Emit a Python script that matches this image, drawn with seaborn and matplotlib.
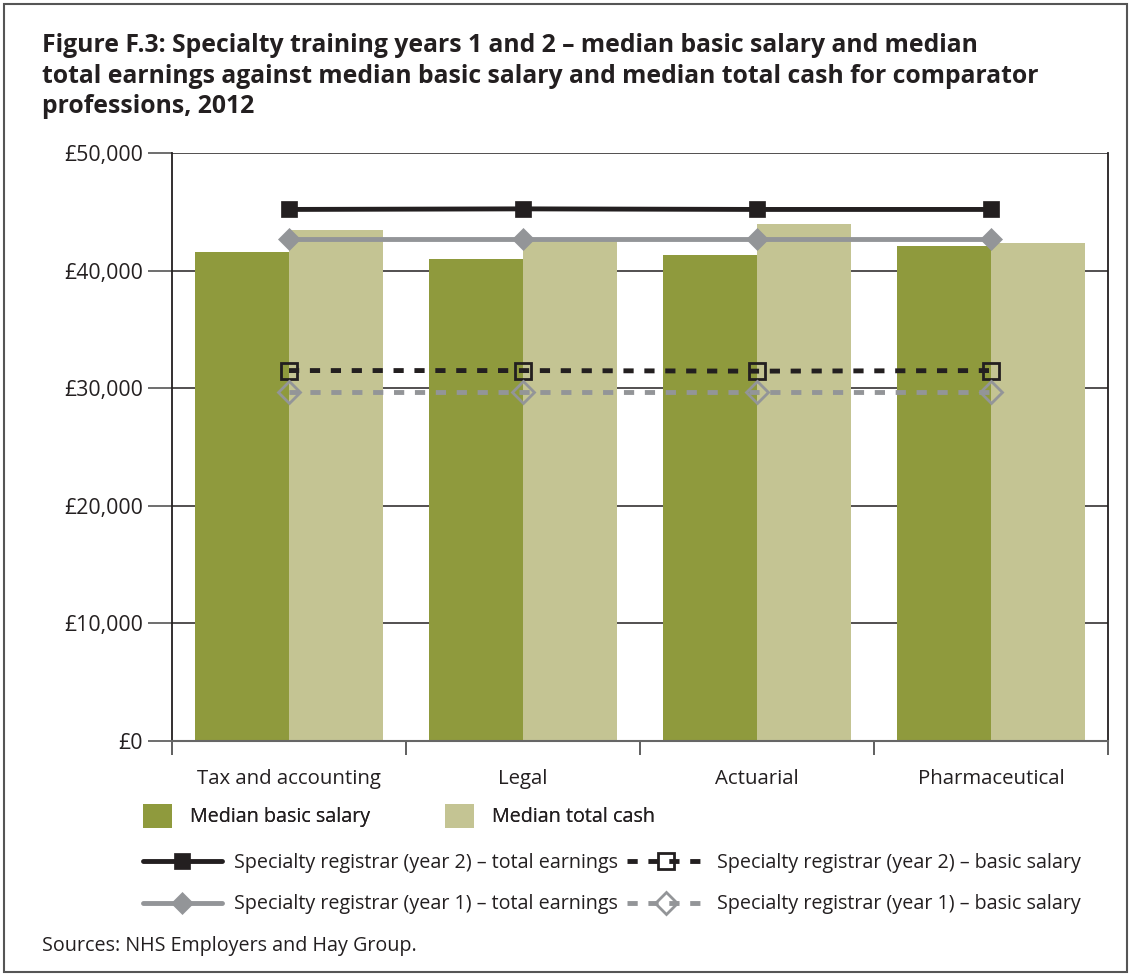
import matplotlib
matplotlib.use("Agg")
import matplotlib.pyplot as plt
import seaborn as sns
import numpy as np
import pandas as pd
from matplotlib.patches import Patch, Rectangle
from matplotlib.ticker import FuncFormatter, FixedLocator

categories = ["Tax and accounting", "Legal", "Actuarial", "Pharmaceutical"]
median_basic_salary = [41600, 41000, 41300, 42100]
median_total_cash = [43450, 42700, 43950, 42350]
y2_total_earnings = [45200, 45250, 45200, 45200]
y1_total_earnings = [42650, 42650, 42650, 42650]
y2_basic_salary = [31500, 31500, 31450, 31500]
y1_basic_salary = [29650, 29650, 29650, 29650]
bar_series = ["Median basic salary", "Median total cash"]
line_labels = [
    "Specialty registrar (year 2) \u2013 total earnings",
    "Specialty registrar (year 1) \u2013 total earnings",
    "Specialty registrar (year 2) \u2013 basic salary",
    "Specialty registrar (year 1) \u2013 basic salary",
]
title = ("Figure F.3: Specialty training years 1 and 2 \u2013 median basic salary and median\n"
         "total earnings against median basic salary and median total cash for comparator\n"
         "professions, 2012")
source = "Sources: NHS Employers and Hay Group."

GREEN = "#8f9a3d"
TAN = "#c4c493"
BLACK = "#231f20"
GREY = "#939598"
TXT = "#231f20"

sns.set_theme(style="white")
plt.rcParams["font.family"] = ["Open Sans", "DejaVu Sans"]

W, H = 1131, 976
fig = plt.figure(figsize=(W / 100, H / 100), dpi=100)
ax = fig.add_axes([172 / W, 1 - 741 / H, (1108 - 172) / W, (741 - 153) / H])

df = pd.DataFrame({
    "category": categories * 2,
    "value": median_basic_salary + median_total_cash,
    "series": [bar_series[0]] * 4 + [bar_series[1]] * 4,
})
sns.barplot(data=df, x="category", y="value", hue="series", order=categories,
            hue_order=bar_series, palette=[GREEN, TAN], width=0.8, gap=0,
            saturation=1, linewidth=0, errorbar=None, legend=False, ax=ax, zorder=2)

line_specs = [
    (y2_total_earnings, BLACK, "s", True),
    (y1_total_earnings, GREY, "D", True),
    (y2_basic_salary, BLACK, "s", False),
    (y1_basic_salary, GREY, "D", False),
]
handles = []
for vals, col, mk, filled in line_specs:
    n_before = len(ax.lines)
    sns.pointplot(x=categories, y=vals, order=categories, color=col, markers=mk,
                  linestyles="-", errorbar=None, ax=ax)
    ln = ax.lines[n_before]
    ln.set_linewidth(3.5)
    ln.set_zorder(5)
    ln.set_color(col)
    ln.set_markeredgecolor(col)
    ln.set_markersize(12 if mk == "s" else 11.5)
    if filled:
        ln.set_markerfacecolor(col)
        ln.set_markeredgewidth(0.5)
    else:
        ln.set_markerfacecolor("none")
        ln.set_markeredgewidth(2.0)
        ln.set_linestyle((0, (2.1, 2.2)))
        ln.set_dash_capstyle("butt")
    handles.append(ln)

ax.set_ylim(0, 50000)
ax.set_xlim(-0.5, 3.5)
ax.yaxis.set_major_locator(FixedLocator([0, 10000, 20000, 30000, 40000, 50000]))
ax.yaxis.set_major_formatter(FuncFormatter(lambda v, p: "\u00a3{:,.0f}".format(v)))
ax.grid(axis="y", color=BLACK, linewidth=1.1, zorder=0)
ax.set_axisbelow(True)
ax.set_xlabel("")
ax.set_ylabel("")

ax.set_xticks(np.arange(len(categories)))
ax.set_xticklabels(categories)
ax.set_xticks(np.arange(-0.5, len(categories)), minor=True)
ax.tick_params(axis="x", which="major", length=0, pad=20, labelsize=14.7, labelcolor=TXT)
ax.tick_params(axis="x", which="minor", length=10, width=1.2, color="#444444", direction="out", bottom=True)
ax.tick_params(axis="y", which="major", length=17, width=1.2, color="#555555", pad=4,
               labelsize=15.3, labelcolor=TXT, left=True)

ax.spines["top"].set_visible(False)
for s in ["left", "right"]:
    ax.spines[s].set_color(BLACK)
    ax.spines[s].set_linewidth(1.3)
ax.spines["bottom"].set_color("#666666")
ax.spines["bottom"].set_linewidth(1.5)

fig.text(42 / W, 1 - 33.5 / H, title, ha="left", va="top", fontsize=17.8,
         fontweight="bold", color=TXT, linespacing=1.27)

FS = 14.2
bar_handles = [Patch(facecolor=GREEN, edgecolor="none"), Patch(facecolor=TAN, edgecolor="none")]
leg1 = fig.legend(bar_handles, bar_series, loc="upper left",
                  bbox_to_anchor=(143 / W, 1 - 804 / H), ncol=2, frameon=False,
                  fontsize=FS, handlelength=1.47, handleheight=1.47, handletextpad=0.9,
                  columnspacing=3.8, labelcolor=TXT, borderpad=0, borderaxespad=0)
fig.add_artist(leg1)
leg2 = fig.legend(handles, line_labels, loc="upper left",
                  bbox_to_anchor=(143 / W, 1 - 853 / H), ncol=2, frameon=False,
                  fontsize=FS, handlelength=4.0, handletextpad=0.6, numpoints=1,
                  columnspacing=0.45, labelspacing=1.09, labelcolor=TXT,
                  borderpad=0, borderaxespad=0)

fig.text(42 / W, 1 - 946 / H, source, ha="left", va="center", fontsize=14.2, color=TXT)

fig.add_artist(Rectangle((4 / W, 4 / H), (W - 8) / W, (H - 8) / H, transform=fig.transFigure,
                         fill=False, edgecolor="#555555", linewidth=1.5))

fig.savefig("out.png", dpi=100)
